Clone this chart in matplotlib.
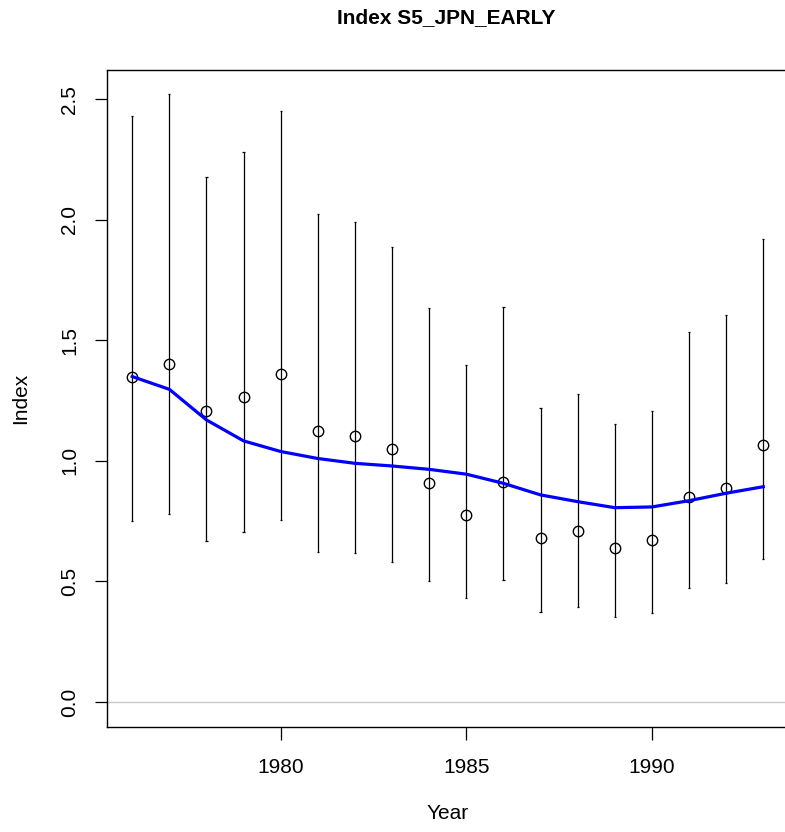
import numpy as np
import matplotlib
matplotlib.use("Agg")
import matplotlib.pyplot as plt

plt.rcParams['font.family'] = ['Liberation Sans', 'DejaVu Sans']

years = list(range(1976, 1994))
obs = [1.350, 1.401, 1.207, 1.266, 1.362, 1.124, 1.105, 1.048, 0.907,
       0.776, 0.911, 0.679, 0.710, 0.640, 0.671, 0.852, 0.889, 1.066]
upper = [2.433, 2.521, 2.176, 2.281, 2.451, 2.024, 1.990, 1.889, 1.636,
         1.398, 1.640, 1.220, 1.279, 1.155, 1.209, 1.534, 1.604, 1.920]
lower = [0.751, 0.779, 0.668, 0.704, 0.755, 0.624, 0.617, 0.579, 0.502,
         0.433, 0.506, 0.375, 0.393, 0.354, 0.371, 0.472, 0.495, 0.592]
fit = [1.350, 1.297, 1.170, 1.083, 1.039, 1.010, 0.990, 0.979, 0.965,
       0.945, 0.907, 0.859, 0.831, 0.806, 0.809, 0.835, 0.866, 0.893]

fig = plt.figure(figsize=(7.85, 8.32), dpi=100)
ax = fig.add_axes([107/785, 1-727/832, (788.5-107)/785, (727-70)/832])

ax.axhline(0, color='#c8c8c8', lw=1, zorder=1)
ax.vlines(years, lower, upper, color='black', lw=0.9, zorder=2)
ax.hlines(upper, np.array(years)-0.03, np.array(years)+0.03, color='black', lw=0.9)
ax.hlines(lower, np.array(years)-0.03, np.array(years)+0.03, color='black', lw=0.9)
ax.plot(years, obs, 'o', mfc='none', mec='black', ms=7.5, mew=1.0, zorder=3)
ax.plot(years, fit, color='#0000ff', lw=2.3, zorder=4)

ax.set_xlim(1975.32, 1993.68)
ax.set_ylim(-0.104, 2.622)
ax.set_xticks([1980, 1985, 1990])
ax.set_yticks([0.0, 0.5, 1.0, 1.5, 2.0, 2.5])
ax.set_yticklabels(['0.0', '0.5', '1.0', '1.5', '2.0', '2.5'], rotation=90, va='center')
ax.tick_params(axis='both', labelsize=15, length=9, width=0.9, color='black')
ax.tick_params(axis='x', pad=13)
ax.tick_params(axis='y', pad=11)
for s in ax.spines.values():
    s.set_linewidth(1.0)

ax.set_xlabel('Year', fontsize=15, labelpad=20)
ax.set_ylabel('Index', fontsize=15, labelpad=22)
fig.text(446/785, 1-18/832, 'Index S5_JPN_EARLY', ha='center', va='center',
         fontsize=15, fontweight='bold')

fig.savefig('out.png', dpi=100)
